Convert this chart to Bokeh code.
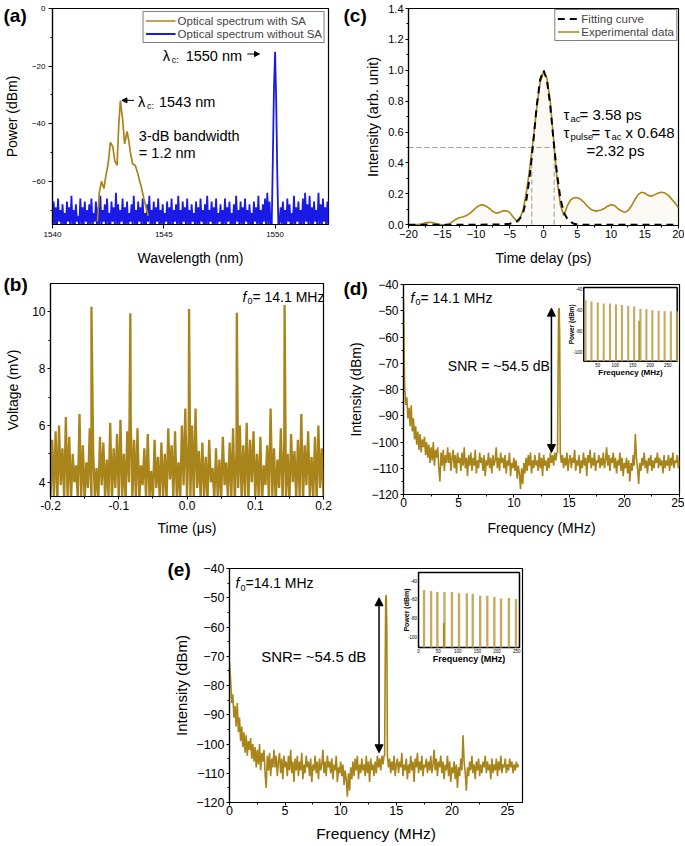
import numpy as np
from bokeh.plotting import figure
from bokeh.layouts import row, Spacer
from bokeh.models import (Range1d, Label, Arrow, NormalHead, Legend, LegendItem,
                          FixedTicker, NumeralTickFormatter, GridBox)
from bokeh.core.properties import value
from bokeh.embed import file_html
from bokeh.resources import INLINE

FONT = "Liberation Sans"
GOLD = "#a8841a"
BLUE = "#1a1ae6"
TAN = "#c2a14e"

panel_tags = ["(a)", "(b)", "(c)", "(d)", "(e)"]

# ---------------- (a) optical spectrum ----------------
blue_start, blue_step = 1540.0, 0.05
blue_p = [
    -76, -67, -75, -69, -76, -66, -74, -70, -76, -68,
    -75, -71, -76, -67, -74, -69, -76, -65, -75, -70,
    -76, -68, -74, -72, -76, -66, -75, -69, -76, -67,
    -74, -70, -76, -68, -75, -66, -76, -71, -74, -67,
    -76, -69, -75, -65, -76, -70, -74, -68, -76, -66,
    -75, -71, -76, -67, -74, -69, -76, -64, -75, -68,
    -76, -70, -74, -66, -76, -69, -75, -67, -76, -71,
    -74, -68, -76, -65, -75, -70, -76, -67, -74, -69,
    -76, -66, -75, -71, -76, -68, -74, -65, -76, -70,
    -75, -67, -76, -69, -74, -66, -76, -70, -75, -68,
    -76, -71, -74, -67, -76, -69, -75, -66, -76, -70,
    -74, -68, -76, -65, -75, -70, -76, -67, -74, -69,
    -76, -66, -75, -70, -76, -68, -74, -71, -76, -67,
    -75, -69, -76, -66, -74, -70, -76, -68, -75, -65,
    -76, -70, -74, -67, -76, -69, -75, -66, -76, -71,
    -74, -68, -76, -70, -75, -66, -76, -69, -74, -67,
    -76, -71, -75, -68, -76, -65, -74, -70, -76, -67,
    -75, -69, -76, -66, -74, -70, -76, -68, -75, -71,
    -76, -67, -74, -69, -76, -65, -75, -70, -76, -68,
    -74, -66, -76, -64, -75, -67, -76, -75, -52, -28,
    -15, -32, -58, -76, -74, -69, -76, -67, -75, -70,
    -76, -66, -74, -68, -76, -71, -75, -65, -76, -69,
    -74, -67, -76, -70, -75, -66, -76, -64, -74, -68,
    -76, -65, -75, -69, -76, -67, -74, -70, -76, -64,
    -75, -68, -76, -66, -74, -69, -76, -67, -75, -65,
]
sa_wl = [1542.02, 1542.1, 1542.2, 1542.31, 1542.41, 1542.5, 1542.6, 1542.71, 1542.8, 1542.9,
         1542.98, 1543.05, 1543.15, 1543.24, 1543.35, 1543.43, 1543.5, 1543.6, 1543.72, 1543.84,
         1543.92, 1543.99, 1544.09, 1544.2, 1544.3]
sa_p = [-74, -64, -60, -62.5, -57.5, -54, -46.5, -48, -53, -54.5,
        -40, -32, -38.5, -47, -42.7, -46, -50, -54, -54.5, -57.5,
        -60, -62, -65.5, -69, -72]

# ---------------- (b) pulse train ----------------
b_start, b_step = -0.2, 0.0025
b_noise = [
    3.4, 5.5, 3.5, 5.8, 3.3, 6.0, 3.9, 5.2, 3.4, 6.3,
    3.5, 5.6, 3.3, 5.0, 4.0, 4.6, 3.4, 6.4, 3.5, 5.3,
    3.3, 4.7, 3.8, 5.9, 3.4, 5.1, 3.5, 4.5, 3.3, 5.6,
    3.9, 5.4, 3.4, 4.8, 3.5, 6.1, 3.3, 5.2, 3.8, 5.7,
    3.4, 6.2, 3.5, 5.0, 3.3, 5.8, 4.0, 6.3, 3.4, 5.5,
    3.5, 5.9, 3.3, 4.6, 3.9, 5.2, 3.4, 5.7, 3.5, 4.4,
    3.3, 5.5, 3.8, 4.9, 3.4, 5.4, 3.5, 5.0, 3.3, 5.9,
    4.1, 5.3, 3.4, 5.8, 3.5, 4.7, 3.3, 6.0, 3.9, 6.6,
    3.4, 5.6, 3.5, 6.0, 3.3, 6.6, 3.8, 5.1, 3.4, 5.4,
    3.5, 4.9, 3.3, 5.5, 4.0, 4.5, 3.4, 5.2, 3.5, 4.8,
    3.3, 5.6, 3.9, 4.7, 3.4, 5.4, 3.5, 5.9, 3.3, 5.1,
    3.8, 6.0, 3.4, 5.3, 3.5, 6.1, 3.3, 5.5, 4.0, 5.8,
    3.4, 5.0, 3.5, 5.6, 3.3, 4.6, 3.9, 5.3, 3.4, 6.6,
    3.5, 5.2, 3.3, 4.8, 3.8, 5.9, 3.4, 5.4, 3.5, 5.0,
    3.3, 5.7, 4.0, 5.1, 3.4, 5.5, 3.5, 6.4, 3.3, 5.3,
    3.9, 5.8, 3.4, 4.9, 3.5, 5.6, 3.3, 6.0, 3.8, 5.2,
    3.4,
]
b_spike_t = [-0.14, -0.083, 0.003, 0.073, 0.143]
b_spike_v = [10.18, 9.95, 10.1, 9.97, 10.24]

# ---------------- (c) autocorrelation ----------------
c_t = [-20, -19, -18, -17.5, -17, -16.5, -16, -15.5, -15, -14.5,
       -14, -13.5, -13, -12.5, -12, -11.5, -11, -10.5, -10, -9.5,
       -9, -8.5, -8, -7.5, -7, -6.5, -6, -5.5, -5, -4.5,
       -4, -3.75, -3.5, -3, -2.5, -2, -1.5, -1, -0.5, 0,
       0.5, 1, 1.5, 2, 2.5, 3, 3.5, 4, 4.5, 5,
       5.5, 6, 6.5, 7, 7.5, 8, 8.5, 9, 9.5, 10,
       10.5, 11, 11.5, 12, 12.5, 13, 13.5, 14, 14.5, 15,
       15.5, 16, 16.5, 17, 17.5, 18, 18.5, 19, 19.5, 20]
c_i = [0.0, 0.0, 0.005, 0.012, 0.015, 0.014, 0.008, 0.002, 0.0, 0.0,
       0.004, 0.02, 0.035, 0.045, 0.05, 0.058, 0.07, 0.09, 0.11, 0.125,
       0.13, 0.12, 0.105, 0.085, 0.075, 0.08, 0.09, 0.09, 0.08, 0.05,
       0.025, 0.02, 0.04, 0.1, 0.22, 0.38, 0.56, 0.76, 0.92, 0.99,
       0.95, 0.8, 0.55, 0.3, 0.13, 0.06, 0.12, 0.16, 0.175, 0.175,
       0.165, 0.145, 0.12, 0.1, 0.09, 0.09, 0.095, 0.105, 0.12, 0.13,
       0.125, 0.105, 0.09, 0.08, 0.09, 0.12, 0.16, 0.195, 0.21, 0.205,
       0.19, 0.185, 0.195, 0.205, 0.21, 0.205, 0.19, 0.165, 0.14, 0.11]
fit_t = [-20, -15, -10, -6, -5, -4, -3.5, -3, -2.5, -2, -1.5, -1, -0.5, 0,
         0.5, 1, 1.5, 2, 2.5, 3, 3.5, 4, 4.5, 5, 6, 10, 15, 20]
fit_i = [0, 0, 0, 0.002, 0.006, 0.02, 0.04, 0.08, 0.17, 0.33, 0.54, 0.77, 0.94, 1.0,
         0.94, 0.77, 0.54, 0.33, 0.17, 0.08, 0.04, 0.02, 0.006, 0.002, 0, 0, 0, 0]
c_half = 0.5
c_fwhm = [-1.73, 1.58]

# ---------------- (d)/(e) RF spectrum ----------------
spec_step = 0.1
spec_p = [
    -72,
    -78, -86, -83, -91, -87, -94, -86, -96, -91, -99,
    -94, -101, -96, -103, -97, -104, -99, -102, -98, -105,
    -100, -106, -101, -108, -102, -107, -100, -109, -103, -106,
    -102, -110, -115, -104, -109, -103, -111, -105, -108, -102,
    -108, -104, -111, -106, -103, -110, -105, -112, -104, -108,
    -106, -111, -104, -109, -102, -110, -106, -113, -105, -109,
    -104, -111, -106, -109, -103, -112, -107, -110, -104, -108,
    -106, -111, -105, -113, -107, -109, -104, -110, -106, -112,
    -105, -109, -107, -102, -110, -106, -111, -104, -108, -106,
    -110, -105, -112, -107, -109, -104, -113, -108, -110, -106,
    -111, -107, -114, -109, -112, -118, -110, -116, -108, -112,
    -106, -111, -105, -109, -104, -112, -107, -110, -105, -109,
    -107, -111, -104, -110, -106, -113, -105, -109, -107, -111,
    -106, -110, -104, -108, -105, -109, -104, -107, -104, -76,
    -49, -104, -108, -105, -110, -106, -109, -104, -111, -107,
    -105, -110, -106, -108, -103, -111, -107, -109, -105, -112,
    -107, -110, -104, -109, -106, -113, -105, -108, -103, -110,
    -106, -109, -104, -111, -107, -108, -105, -110, -106, -109,
    -104, -110, -107, -102, -109, -105, -111, -106, -108, -104,
    -110, -106, -112, -107, -109, -104, -111, -106, -113, -108,
    -110, -106, -112, -107, -115, -108, -111, -105, -109, -97,
    -106, -110, -116, -108, -111, -106, -109, -104, -110, -107,
    -112, -106, -109, -105, -111, -107, -110, -106, -108, -104,
    -110, -106, -109, -107, -112, -105, -110, -107, -109, -105,
    -111, -106, -109, -104, -110, -107, -108, -105, -110, -107,
    -109, -105, -108, -106, -110, -107, -109, -106, -108, -107,
]
spec_extra_f = [13.95, 14.05, 14.15]
spec_extra_p = [-104, -50, -61]
d_dc_f, d_dc_p = [0.0], [-46]
snr_d = dict(f=13.4, floor=-104, peak=-49)
snr_e = dict(f=13.45, floor=-103, peak=-50)

# insets (harmonics, wide span)
d_ins_f = [15, 32, 50, 67, 85, 102, 119, 137, 154, 172, 189, 206, 224, 241, 259, 276]
d_ins_p = [-50.5, -51.5, -52.5, -53.5, -53.5, -54.5, -55, -56, -56.5, -58.5,
           -59, -60, -60.5, -61, -61, -61]
d_ins_s_f, d_ins_s_p = [168], [-70]
e_ins_f = [14, 32, 48, 66, 85, 103, 123, 138, 157, 175, 193, 210, 230, 248]
e_ins_p = [-50, -51, -52, -52, -52, -53.5, -53.5, -54, -56, -56, -57.5, -59, -58.5, -59.5]
e_ins_s_f, e_ins_s_p = [64], [-85]
ins_yticks = [-40, -60, -80, -100]
d_ins_xticks = [50, 100, 150, 200, 250]
e_ins_xticks = [0, 50, 100, 150, 200, 250]


def merged(xa, ya, xb, yb):
    x = np.concatenate([np.asarray(xa, float), np.asarray(xb, float)])
    y = np.concatenate([np.asarray(ya, float), np.asarray(yb, float)])
    o = np.argsort(x, kind="stable")
    return x[o], y[o]


def make_fig(w, h, xr, yr, bl, br, bt, bb):
    p = figure(width=w, height=h, x_range=Range1d(*xr), y_range=Range1d(*yr),
               output_backend="svg", toolbar_location=None,
               min_border_left=bl, min_border_right=br,
               min_border_top=bt, min_border_bottom=bb)
    p.xgrid.visible = False
    p.ygrid.visible = False
    p.outline_line_color = "black"
    p.outline_line_width = 1.2
    p.outline_line_alpha = 1.0
    p.background_fill_color = "white"
    p.border_fill_color = "white"
    return p


def style_axis(ax, ticks, minor, tick_size, label, label_size, label_standoff,
               tick_standoff=2, fmt=None, tick_out=4):
    ax.ticker = FixedTicker(ticks=ticks, minor_ticks=minor)
    ax.axis_label = label
    ax.axis_label_text_font = FONT
    ax.axis_label_text_font_size = f"{label_size}px"
    ax.axis_label_text_font_style = "normal"
    ax.axis_label_text_color = "black"
    ax.axis_label_standoff = label_standoff
    ax.major_label_text_font = FONT
    ax.major_label_text_font_size = f"{tick_size}px"
    ax.major_label_text_color = "black"
    ax.major_label_standoff = tick_standoff
    ax.axis_line_color = "black"
    ax.axis_line_width = 1.2
    ax.major_tick_line_color = "black"
    ax.major_tick_in = 0
    ax.major_tick_out = tick_out
    ax.minor_tick_line_color = "black"
    ax.minor_tick_in = 0
    ax.minor_tick_out = 2
    if fmt:
        ax.formatter = NumeralTickFormatter(format=fmt)


def lab(p, x, y, text, size, style="normal", align="left", baseline="middle", xoff=0):
    p.add_layout(Label(x=x, y=y, text=text, x_offset=xoff, text_font=FONT,
                       text_font_size=f"{size}px", text_font_style=style,
                       text_align=align, text_baseline=baseline, text_color="black"))


def arrow(p, x0, y0, x1, y1, size=6, both=False, width=1.0):
    p.add_layout(Arrow(x_start=x0, y_start=y0, x_end=x1, y_end=y1, line_width=width,
                       line_color="black",
                       start=NormalHead(size=size, fill_color="black", line_color="black") if both else None,
                       end=NormalHead(size=size, fill_color="black", line_color="black")))


def inset(p, xs, ys, xt, yt, f, pw, sf, sp, xticks, yticks, lab_size, pw_size):
    sub = p.subplot(x_source=Range1d(*xs), y_source=Range1d(*ys),
                    x_target=Range1d(*xt), y_target=Range1d(*yt))
    sub.quad(left=[xs[0]], right=[xs[1]], bottom=[ys[0]], top=[ys[1]],
             fill_color="white", line_color="black", line_width=1.5)
    sub.vbar(x=f, top=pw, bottom=ys[0], width=6, fill_color=TAN, line_color=None, fill_alpha=0.9)
    sub.vbar(x=sf, top=sp, bottom=ys[0], width=4, fill_color=GOLD, line_color=None)
    sub.text(x=xticks, y=[ys[0]] * len(xticks), text=[str(t) for t in xticks],
             text_font=value(FONT), text_font_size="4.5px", text_align="center",
             text_baseline="top", y_offset=1.5, text_color="black")
    sub.text(x=[xs[0]] * len(yticks), y=yticks, text=[str(t) for t in yticks],
             text_font=value(FONT), text_font_size="4.5px", text_align="right",
             text_baseline="middle", x_offset=-1.5, text_color="black")
    sub.text(x=[(xs[0] + xs[1]) / 2], y=[ys[0]], text=["Frequency (MHz)"],
             text_font=value(FONT), text_font_size=f"{lab_size}px", text_font_style="bold",
             text_align="center", text_baseline="top", y_offset=7, text_color="black")
    sub.text(x=[xs[0]], y=[(ys[0] + ys[1]) / 2], text=["Power (dBm)"], angle=np.pi / 2,
             text_font=value(FONT), text_font_size=f"{pw_size}px", text_font_style="bold",
             text_align="center", text_baseline="bottom", x_offset=-9, text_color="black")


def overlay(w, h, tag, tx, ty):
    """Transparent figure (pixel coordinates) of the same size as a panel, carrying its letter."""
    f = figure(width=w, height=h, x_range=Range1d(0, w), y_range=Range1d(h, 0),
               output_backend="svg", toolbar_location=None, x_axis_type=None,
               y_axis_type=None, min_border=0, min_border_left=0, min_border_right=0,
               min_border_top=0, min_border_bottom=0)
    f.outline_line_color = None
    f.background_fill_alpha = 0
    f.border_fill_alpha = 0
    f.add_layout(Label(x=tx, y=ty, text=tag, text_font=FONT, text_font_size="19px",
                       text_font_style="bold", text_baseline="middle", text_color="black"))
    return row(f)


# ======== (a) ========
pa = make_fig(340, 268, (1540, 1552.4), (-75, 0), 50, 12, 8, 38)
style_axis(pa.xaxis[0], [1540, 1545, 1550], [], 8, "Wavelength (nm)", 14, 10, tick_standoff=3)
style_axis(pa.yaxis[0], [0, -20, -40, -60], [-10, -30, -50, -70], 8, "Power (dBm)", 14, 9, tick_standoff=3)
bx = blue_start + blue_step * np.arange(len(blue_p))
r_blue = pa.line(bx, blue_p, color=BLUE, line_width=1.8)
r_gold = pa.line(sa_wl, sa_p, color=GOLD, line_width=1.7)
leg = Legend(items=[LegendItem(label="Optical spectrum with SA", renderers=[r_gold]),
                    LegendItem(label="Optical spectrum without SA", renderers=[r_blue])],
             location="top_right", label_text_font=FONT, label_text_font_size="11.5px",
             glyph_width=30, glyph_height=13, label_height=13, label_standoff=2,
             spacing=0, padding=2, margin=3, border_line_color="black",
             border_line_width=1, background_fill_alpha=1.0)
pa.add_layout(leg)
lab(pa, 1544.95, -16.5, "λ", 14.5)
lab(pa, 1544.95, -17.9, "c:", 9, xoff=9)
lab(pa, 1544.95, -16.5, "1550 nm", 14.5, xoff=23)
arrow(pa, 1548.75, -15.8, 1549.3, -15.8, size=5)
lab(pa, 1543.84, -32.6, "λ", 14.5)
lab(pa, 1543.84, -34.0, "c:", 9, xoff=9)
lab(pa, 1543.84, -32.6, "1543 nm", 14.5, xoff=21)
arrow(pa, 1543.66, -31.9, 1543.12, -31.9, size=5)
lab(pa, 1543.88, -44.4, "3-dB bandwidth", 14.5)
lab(pa, 1543.88, -50.1, "= 1.2 nm", 14.5)

# ======== (c) ========
pc = make_fig(344, 268, (-20, 20), (-0.005, 1.4), 68, 6, 8, 42)
style_axis(pc.xaxis[0], list(range(-20, 21, 5)), [-17.5, -12.5, -7.5, -2.5, 2.5, 7.5, 12.5, 17.5],
           11, "Time delay (ps)", 14, 9, tick_standoff=1, tick_out=3)
style_axis(pc.yaxis[0], [0, 0.2, 0.4, 0.6, 0.8, 1.0, 1.2, 1.4],
           [0.1, 0.3, 0.5, 0.7, 0.9, 1.1, 1.3], 11, "Intensity (arb. unit)", 14.5, 4,
           tick_standoff=2, fmt="0.0", tick_out=3)
pc.varea(x=c_t, y1=0, y2=c_i, fill_color="#efe6c8", fill_alpha=0.18)
pc.segment(x0=[-20, c_fwhm[0], c_fwhm[1]], y0=[c_half, 0, 0],
           x1=[c_fwhm[1] + 0.15, c_fwhm[0], c_fwhm[1]], y1=[c_half, c_half, c_half],
           line_color="#9a9a9a", line_dash="5 3", line_width=1)
r_exp = pc.line(c_t, c_i, color=GOLD, line_width=1.6)
r_fit = pc.line(fit_t, fit_i, color="black", line_width=2, line_dash="7 5")
legc = Legend(items=[LegendItem(label="Fitting curve", renderers=[r_fit]),
                     LegendItem(label="Experimental data", renderers=[r_exp])],
              location="top_right", label_text_font=FONT, label_text_font_size="11.5px",
              glyph_width=22, glyph_height=13, label_height=13, label_standoff=2,
              spacing=0, padding=2, margin=1, border_line_color="black",
              border_line_width=1, background_fill_alpha=1.0)
pc.add_layout(legc)
lab(pc, 2.96, 0.713, "τ", 15)
lab(pc, 2.96, 0.688, "ac", 9.5, xoff=7)
lab(pc, 2.96, 0.713, "= 3.58 ps", 15, xoff=16)
lab(pc, 2.96, 0.597, "τ", 15)
lab(pc, 2.96, 0.572, "pulse", 9.5, xoff=7)
lab(pc, 2.96, 0.597, "= τ", 15, xoff=28)
lab(pc, 2.96, 0.572, "ac", 9.5, xoff=48)
lab(pc, 2.96, 0.597, "x 0.648", 15, xoff=62)
lab(pc, 6.37, 0.482, "=2.32 ps", 15)

# ======== (b) ========
pb = make_fig(340, 270, (-0.2, 0.2), (3.5, 11), 50, 17, 15, 39)
style_axis(pb.xaxis[0], [-0.2, -0.1, 0.0, 0.1, 0.2], [-0.15, -0.05, 0.05, 0.15], 12,
           "Time (μs)", 14, 7, tick_standoff=1, fmt="0.0", tick_out=3)
style_axis(pb.yaxis[0], [4, 6, 8, 10], [5, 7, 9], 12, "Voltage (mV)", 14, 8,
           tick_standoff=2, tick_out=3)
bt = b_start + b_step * np.arange(len(b_noise))
btx, bvy = merged(bt, b_noise, b_spike_t, b_spike_v)
pb.line(btx, bvy, color=GOLD, line_width=2.3)
lab(pb, 0.0813, 10.51, "f", 14, "italic")
lab(pb, 0.0813, 10.37, "0", 9, xoff=5)
lab(pb, 0.0813, 10.51, "= 14.1 MHz", 14, xoff=10)

# ======== (d) ========
pd_ = make_fig(344, 270, (0, 25), (-120, -40), 63, 5, 16, 35)
style_axis(pd_.xaxis[0], [0, 5, 10, 15, 20, 25], [2.5, 7.5, 12.5, 17.5, 22.5], 12,
           "Frequency (MHz)", 14, 10, tick_standoff=0, tick_out=3)
style_axis(pd_.yaxis[0], list(range(-120, -39, 10)), list(range(-115, -40, 10)), 12,
           "Intensity (dBm)", 14, 4, tick_standoff=2, tick_out=3)
sf = spec_step * np.arange(len(spec_p))
sfx, spy = merged(sf, spec_p, spec_extra_f, spec_extra_p)
dfx, dpy = merged(sfx, spy, d_dc_f, d_dc_p)
pd_.line(dfx, dpy, color=GOLD, line_width=1.6)
inset(pd_, (10, 277), (-109, -38), (16.33, 24.79), (-69.2, -41.1),
      d_ins_f, d_ins_p, d_ins_s_f, d_ins_s_p, d_ins_xticks, ins_yticks, 8, 6.5)
arrow(pd_, snr_d["f"], snr_d["floor"], snr_d["f"], snr_d["peak"], size=8, both=True, width=1.5)
lab(pd_, 0.63, -45.1, "f", 14, "italic")
lab(pd_, 0.63, -46.8, "0", 9, xoff=5)
lab(pd_, 0.63, -45.1, "= 14.1 MHz", 14, xoff=10)
lab(pd_, 13.25, -71.0, "SNR = ~54.5 dB", 14, align="right")

# ======== (e) ========
pe = make_fig(380, 306, (0, 26.35), (-120, -40), 69, 18, 30, 41)
style_axis(pe.xaxis[0], [0, 5, 10, 15, 20, 25], [2.5, 7.5, 12.5, 17.5, 22.5], 12.5,
           "Frequency (MHz)", 15.5, 7, tick_standoff=0, tick_out=3)
style_axis(pe.yaxis[0], list(range(-120, -39, 10)), list(range(-115, -40, 10)), 12.5,
           "Intensity (dBm)", 15, 3, tick_standoff=2, tick_out=3)
pe.line(sfx, spy, color=GOLD, line_width=1.6)
inset(pe, (0, 257), (-111, -31.5), (17.0, 26.08), (-67.0, -41.4),
      e_ins_f, e_ins_p, e_ins_s_f, e_ins_s_p, e_ins_xticks, ins_yticks, 9, 7)
arrow(pe, snr_e["f"], snr_e["floor"], snr_e["f"], snr_e["peak"], size=8, both=True, width=1.5)
lab(pe, 0.54, -44.8, "f", 14, "italic")
lab(pe, 0.54, -46.5, "0", 9, xoff=5)
lab(pe, 0.54, -44.8, "=14.1 MHz", 14, xoff=10)
lab(pe, 2.85, -70.1, "SNR= ~54.5 dB", 15)

row3 = row(Spacer(width=160, height=306), pe)

ov_a = overlay(340, 268, panel_tags[0], 3, 15)
ov_b = overlay(340, 270, panel_tags[1], 3, 16)
ov_c = overlay(344, 268, panel_tags[2], 3, 15)
ov_d = overlay(344, 270, panel_tags[3], 3, 20)
ov_e = overlay(540, 306, panel_tags[4], 167, 31)

grid = GridBox(children=[
    (row(pa), 0, 0), (row(pc), 0, 1),
    (row(pb), 1, 0), (row(pd_), 1, 1),
    (row3, 2, 0, 1, 2),
    (ov_a, 0, 0), (ov_c, 0, 1),
    (ov_b, 1, 0), (ov_d, 1, 1),
    (ov_e, 2, 0, 1, 2),
], spacing=0)

with open("out.html", "w") as fh:
    fh.write(file_html(grid, INLINE))
